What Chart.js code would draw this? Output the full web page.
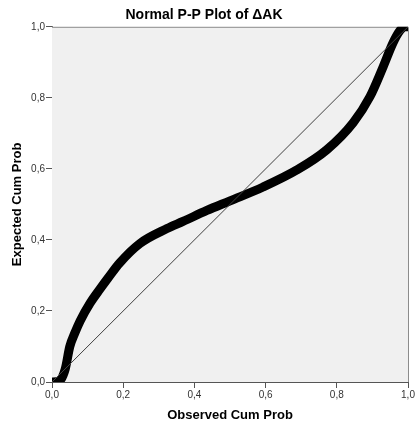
<!DOCTYPE html>
<html>
<head>
<meta charset="utf-8">
<script src="https://cdn.jsdelivr.net/npm/chart.js@4"></script>
<style>
html, body { margin: 0; padding: 0; background: #fff; }
#wrap { width: 416px; height: 425px; }
</style>
</head>
<body>
<div id="wrap"><canvas id="myChart" width="416" height="425"></canvas></div>
<script>
// observed vs expected cumulative probability
var observedCum = [0, 0.02, 0.037, 0.05, 0.065, 0.079, 0.107, 0.135, 0.157, 0.19, 0.247, 0.323, 0.368, 0.435, 0.5, 0.593, 0.688, 0.772, 0.846, 0.893, 0.93, 0.958, 0.978, 0.99, 1.0];
var expectedCum = [0, 0.002, 0.036, 0.1, 0.14, 0.172, 0.222, 0.262, 0.292, 0.335, 0.39, 0.432, 0.452, 0.483, 0.51, 0.549, 0.597, 0.654, 0.73, 0.803, 0.887, 0.955, 0.99, 1.0, 1.0];
var diagonalX = [0, 1];
var diagonalY = [0, 1];
var tickValues = [0, 0.2, 0.4, 0.6, 0.8, 1.0];

function toPoints(xs, ys) {
    var pts = [];
    for (var i = 0; i < xs.length; i++) {
        pts.push({x: xs[i], y: ys[i]});
    }
    return pts;
}
function fmt(v) {
    return Number(v).toFixed(1).replace('.', ',');
}

// grey plot background + frame
var frame = {
    id: 'frame',
    beforeDatasetsDraw: function(chart) {
        var a = chart.chartArea, c = chart.ctx;
        c.save();
        c.fillStyle = '#f0f0f0';
        c.fillRect(a.left, a.top, a.right - a.left, a.bottom - a.top);
        c.strokeStyle = '#8c8c8c';
        c.lineWidth = 1;
        c.beginPath();
        c.moveTo(a.left, a.top + 0.5);
        c.lineTo(a.right + 0.5, a.top + 0.5);
        c.lineTo(a.right + 0.5, a.bottom);
        c.stroke();
        c.restore();
    }
};

var ctx = document.getElementById('myChart').getContext('2d');
var myChart = new Chart(ctx, {
    type: 'scatter',
    data: {
        datasets: [
            {
                data: toPoints(diagonalX, diagonalY),
                showLine: true,
                borderColor: '#404040',
                borderWidth: 1,
                pointRadius: 0
            },
            {
                data: toPoints(observedCum, expectedCum),
                showLine: true,
                borderColor: '#000',
                borderWidth: 9,
                borderCapStyle: 'round',
                borderJoinStyle: 'round',
                cubicInterpolationMode: 'monotone',
                pointRadius: 0
            }
        ]
    },
    options: {
        responsive: false,
        animation: false,
        events: [],
        layout: { padding: { right: 8, left: 0, bottom: 0, top: 0 } },
        plugins: {
            legend: { display: false },
            tooltip: { enabled: false },
            title: {
                display: true,
                text: 'Normal P-P Plot of \u0394AK',
                color: '#000',
                font: { family: 'Liberation Sans, Arial', size: 14, weight: 'bold' },
                padding: { top: 7, bottom: 3 }
            }
        },
        scales: {
            x: {
                type: 'linear',
                min: 0, max: 1,
                afterBuildTicks: function(s) { s.ticks = tickValues.map(function(v) { return {value: v}; }); },
                afterFit: function(s) { s.height = 43; },
                grid: { drawOnChartArea: false, drawTicks: true, tickLength: 6, color: '#555' },
                border: { color: '#555', width: 1 },
                ticks: {
                    color: '#333', padding: 1,
                    font: { family: 'Liberation Sans, Arial', size: 10 },
                    callback: function(v) { return fmt(v); }
                },
                title: {
                    display: true,
                    text: 'Observed Cum Prob',
                    color: '#000',
                    font: { family: 'Liberation Sans, Arial', size: 13, weight: 'bold' },
                    padding: { top: 4, bottom: 2 }
                }
            },
            y: {
                type: 'linear',
                min: 0, max: 1,
                afterBuildTicks: function(s) { s.ticks = tickValues.map(function(v) { return {value: v}; }); },
                afterFit: function(s) { s.width = 52; },
                grid: { drawOnChartArea: false, drawTicks: true, tickLength: 6, color: '#555' },
                border: { color: '#555', width: 1 },
                ticks: {
                    color: '#333', padding: 1,
                    font: { family: 'Liberation Sans, Arial', size: 10 },
                    callback: function(v) { return fmt(v); }
                },
                title: {
                    display: true,
                    text: 'Expected Cum Prob',
                    color: '#000',
                    font: { family: 'Liberation Sans, Arial', size: 13, weight: 'bold' },
                    padding: { top: 10, bottom: 4 }
                }
            }
        }
    },
    plugins: [frame]
});
</script>
</body>
</html>
